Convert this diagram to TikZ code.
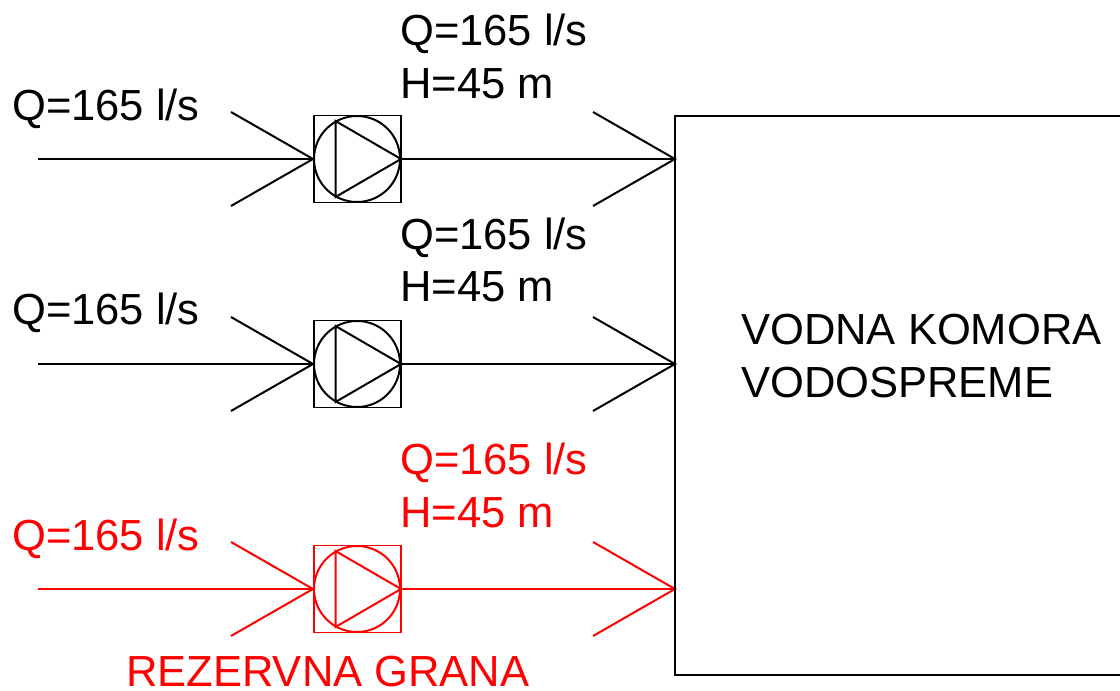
\documentclass[tikz,border=0pt]{standalone}
\usepackage{fontspec}
\setmainfont{Liberation Sans}
\definecolor{myred}{RGB}{255,0,0}
\tikzset{
 lbl/.style={inner sep=0pt,anchor=base west,font=\fontsize{43.7}{50}\selectfont},
 pumpbox/.style={draw,line width=2pt,minimum size=87bp,inner sep=0pt},
 wire/.style={line width=2pt},
}
\newcommand{\pumprow}[6]{% id, y(px), color, ylabelL, ylabelQ, ylabelH
\begin{scope}[#3,every node/.append style={text=#3},draw=#3]
\coordinate (s#1) at (38bp,{-(#2)*1bp});
\node[pumpbox,draw=#3] (p#1) at (357bp,{-(#2)*1bp}) {};
\node[circle,draw=#3,line width=2pt,minimum size=86bp,inner sep=0pt] (c#1) at (p#1.center) {};
\coordinate (t1#1) at (335.5bp,{-(#2-38)*1bp});
\coordinate (t2#1) at (335.5bp,{-(#2+38)*1bp});
\draw[wire,#3,line join=miter] (t1#1) -- (c#1.east) -- (t2#1) -- cycle;
\coordinate (e#1) at (675bp,{-(#2)*1bp});
\draw[wire,#3] (s#1) -- (c#1.west);
\draw[wire,#3] (c#1.east) -- (e#1);
\coordinate (a1#1) at (231bp,{-(#2-47)*1bp});
\coordinate (a2#1) at (231bp,{-(#2+47)*1bp});
\draw[wire,#3] (a1#1) -- (c#1.west) -- (a2#1);
\coordinate (b1#1) at (593bp,{-(#2-47)*1bp});
\coordinate (b2#1) at (593bp,{-(#2+47)*1bp});
\draw[wire,#3] (b1#1) -- (e#1) -- (b2#1);
\node[lbl,text=#3] (l#1) at (12bp,{-(#4)*1bp}) {Q=165 l/s};
\node[lbl,text=#3] (q#1) at (400bp,{-(#5)*1bp}) {Q=165 l/s};
\node[lbl,text=#3] (h#1) at (400bp,{-(#6)*1bp}) {H=45 m};
\end{scope}}
\begin{document}
\begin{tikzpicture}[x=1bp,y=1bp]
\useasboundingbox (0,0) rectangle (1120bp,-691bp);
\pumprow{a}{159}{black}{120}{45}{98}
\pumprow{b}{364}{black}{324}{249}{301}
\pumprow{c}{589}{myred}{550}{474}{527}
\draw[wire] (1125bp,-116bp) -- (675bp,-116bp) -- (675bp,-675bp) -- (1125bp,-675bp);
\node[lbl] (v1) at (741bp,-344bp) {VODNA KOMORA};
\node[lbl] (v2) at (741bp,-397bp) {VODOSPREME};
\node[lbl,text=myred] (r) at (126bp,-686bp) {REZERVNA GRANA};
\end{tikzpicture}
\end{document}
